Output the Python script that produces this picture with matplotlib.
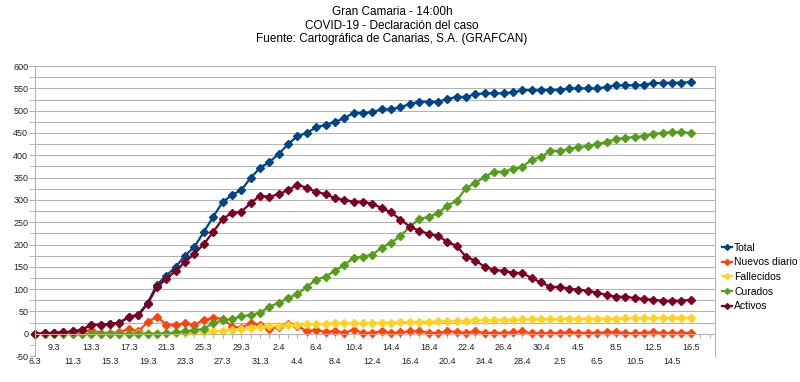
import numpy as np
import matplotlib
matplotlib.use('Agg')
from matplotlib import pyplot as plt
from matplotlib.ticker import MultipleLocator

plt.rcParams['font.family'] = ['Liberation Sans', 'DejaVu Sans']
plt.rcParams['axes.unicode_minus'] = False

# fechas (dia.mes)
fechas = ['6.3', '7.3', '9.3', '10.3', '11.3', '12.3', '13.3', '14.3', '15.3', '16.3',
          '17.3', '18.3', '19.3', '20.3', '21.3', '22.3', '23.3', '24.3', '25.3', '26.3',
          '27.3', '28.3', '29.3', '30.3', '31.3', '1.4', '2.4', '3.4', '4.4', '5.4',
          '6.4', '7.4', '8.4', '9.4', '10.4', '11.4', '12.4', '13.4', '14.4', '15.4',
          '16.4', '17.4', '18.4', '19.4', '20.4', '21.4', '22.4', '23.4', '24.4', '25.4',
          '26.4', '27.4', '28.4', '29.4', '30.4', '1.5', '2.5', '3.5', '4.5', '5.5',
          '6.5', '7.5', '8.5', '9.5', '10.5', '11.5', '12.5', '13.5', '14.5', '15.5',
          '16.5']

total = [0, 1, 2, 3, 5, 9, 20, 20, 22, 25,
         38, 43, 69, 110, 130, 150, 175, 195, 228, 262,
         295, 311, 322, 349, 372, 385, 403, 425, 443, 450,
         463, 468, 475, 483, 495, 495, 497, 503, 503, 508,
         515, 520, 520, 520, 526, 531, 531, 537, 539, 539,
         539, 541, 546, 546, 546, 547, 547, 550, 550, 550,
         550, 553, 557, 557, 557, 558, 562, 562, 563, 563, 564]

nuevos = [0, 0, 1, 1, 2, 4, 8, 2, 2, 3,
          11, 5, 26, 38, 20, 20, 23, 20, 31, 35,
          34, 16, 13, 24, 20, 11, 16, 22, 18, 5,
          9, 3, 7, 2, 9, 2, 2, 5, 2, 3,
          5, 6, 2, 2, 5, 4, 2, 5, 2, 2,
          2, 3, 5, 1, 1, 1, 2, 3, 2, 2,
          2, 3, 4, 1, 1, 2, 4, 1, 2, 2, 2]

fallecidos = [0, 0, 0, 0, 0, 0, 0, 0, 0, 0,
              0, 1, 1, 1, 1, 1, 2, 3, 4, 5,
              7, 9, 11, 13, 15, 17, 18, 19, 20, 21,
              22, 22, 23, 23, 24, 24, 24, 25, 25, 26,
              26, 27, 27, 28, 28, 29, 29, 30, 30, 31,
              31, 31, 32, 32, 32, 33, 33, 33, 33, 34,
              34, 34, 34, 35, 35, 35, 35, 36, 36, 36, 36]

curados = [0, 0, 0, 0, 0, 0, 0, 0, 0, 0,
           0, 0, 0, 0, 1, 3, 5, 8, 11, 24,
           30, 33, 39, 42, 47, 61, 69, 80, 89, 105,
           121, 128, 141, 154, 170, 173, 177, 193, 204, 219,
           240, 257, 262, 270, 287, 298, 327, 338, 352, 363,
           363, 369, 374, 390, 396, 410, 410, 414, 418, 421,
           425, 430, 436, 439, 441, 443, 448, 450, 452, 452, 450]

activos = [0, 1, 2, 3, 5, 9, 20, 20, 22, 25,
           37, 41, 67, 105, 123, 141, 161, 179, 201, 228,
           257, 271, 273, 293, 309, 307, 313, 322, 334, 327,
           318, 313, 304, 300, 296, 296, 291, 282, 272, 256,
           240, 231, 224, 219, 206, 197, 172, 164, 150, 143,
           141, 137, 136, 125, 115, 105, 105, 101, 99, 96,
           92, 87, 83, 83, 80, 78, 76, 74, 74, 74, 76]

series = [('Total', total, '#004586'),
          ('Nuevos diario', nuevos, '#ff420e'),
          ('Fallecidos', fallecidos, '#ffd320'),
          ('Curados', curados, '#579d1c'),
          ('Activos', activos, '#7e0021')]

fig, ax = plt.subplots(figsize=(8, 3.82), dpi=100)
fig.subplots_adjust(left=0.044, right=0.894, top=0.827, bottom=0.068)

# rejilla solo en la parte positiva
for v in np.arange(0, 601, 25):
    ax.axhline(v, color='#b3b3b3', lw=0.8, zorder=0)

x = np.arange(len(fechas))
for name, vals, col in series:
    ax.plot(x, vals, color=col, lw=1.6, marker='D', ms=4.2, label=name, clip_on=False)

ax.set_xlim(0, 72.6)
ax.set_ylim(-50, 600)
ax.yaxis.set_major_locator(MultipleLocator(50))
ax.yaxis.set_minor_locator(MultipleLocator(25))

ax.spines['bottom'].set_position(('data', 0))
ax.spines['top'].set_visible(False)
for s in ['left', 'right', 'bottom']:
    ax.spines[s].set_color('#b3b3b3')
    ax.spines[s].set_linewidth(0.8)

ticks = np.arange(0, 73)
labels = []
for i in ticks:
    if i < len(fechas) and i % 2 == 0:
        labels.append(fechas[i] if (i // 2) % 2 == 1 else '\n' + fechas[i])
    else:
        labels.append('')
ax.set_xticks(ticks)
ax.set_xticklabels(labels, linespacing=1.6)
ax.tick_params(axis='x', length=3, color='#b3b3b3', labelsize=6.5, pad=4, labelcolor='#222222')
ax.tick_params(axis='y', which='both', length=4, color='#b3b3b3', labelsize=6.5, pad=1,
               labelcolor='#222222')

fig.legend(loc='center left', bbox_to_anchor=(0.897, 0.275), frameon=False, fontsize=7.5,
           handlelength=1.0, handletextpad=0.2, labelspacing=0.45, borderaxespad=0,
           markerscale=0.7)

fig.text(0.49, 0.985, 'Gran Camaria - 14:00h\nCOVID-19 - Declaración del caso\n'
         'Fuente: Cartográfica de Canarias, S.A. (GRAFCAN)',
         ha='center', va='top', fontsize=8.5, linespacing=1.2)

fig.savefig('out.png', dpi=100)
